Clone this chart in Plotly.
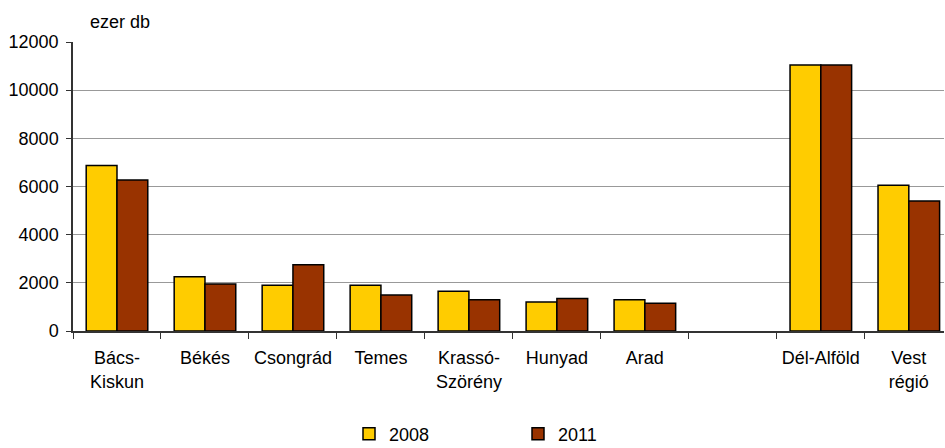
import plotly.graph_objects as go

categories = ["Bács-<br>Kiskun", "Békés", "Csongrád", "Temes", "Krassó-<br>Szörény",
              "Hunyad", "Arad", " ", "Dél-Alföld", "Vest<br>régió"]
values_2008 = [6870, 2250, 1900, 1900, 1650, 1200, 1300, None, 11050, 6050]
values_2011 = [6270, 1950, 2750, 1500, 1300, 1350, 1150, None, 11050, 5400]
y_ticks = [0, 2000, 4000, 6000, 8000, 10000, 12000]
y_ticktext = ["0", "2000", "4000", "6000", "8000", "10000", "12000"]

FONT = "Liberation Sans, Arial, sans-serif"

fig = go.Figure()
fig.add_trace(go.Bar(x=categories, y=values_2008, name="2008",
                     marker=dict(color="#FFCC00", line=dict(color="black", width=1.5))))
fig.add_trace(go.Bar(x=categories, y=values_2011, name="2011",
                     marker=dict(color="#993300", line=dict(color="black", width=1.5))))

fig.update_layout(
    width=945, height=448,
    margin=dict(l=73, r=1, t=42, b=117, autoexpand=False),
    paper_bgcolor="white", plot_bgcolor="white",
    font=dict(family=FONT, size=18, color="black"),
    barmode="group", bargap=0.3, bargroupgap=0,
    showlegend=True,
    legend=dict(orientation="h", xref="container", yref="container",
                x=349 / 945, y=(448 - 434) / 448, xanchor="left", yanchor="middle",
                entrywidth=124, font=dict(size=18), traceorder="normal"),
)
fig.add_annotation(text="ezer db", xref="paper", yref="paper",
                   x=(88 - 73) / 871, y=(331 - 22) / 289,
                   xanchor="left", yanchor="middle", showarrow=False)

fig.update_xaxes(
    type="category", categoryorder="array", categoryarray=categories,
    range=[-0.5, 9.4], automargin=False,
    showline=True, linecolor="#333333", linewidth=1.5,
    ticks="outside", tickson="boundaries", ticklen=6, tickcolor="#333333",
    ticklabelstandoff=10,
    showgrid=False, tickangle=0,
)
fig.update_yaxes(
    range=[0, 12000], tickvals=y_ticks, ticktext=y_ticktext, automargin=False,
    showline=True, linecolor="#333333", linewidth=1.5,
    ticks="outside", ticklen=5, tickcolor="#333333", ticklabelstandoff=4,
    showgrid=True, gridcolor="#999999", gridwidth=1,
    zeroline=False,
)

fig.write_html("out.html", config={"displayModeBar": False},
               post_script="document.body.style.margin='0';document.body.style.overflow='hidden';")
